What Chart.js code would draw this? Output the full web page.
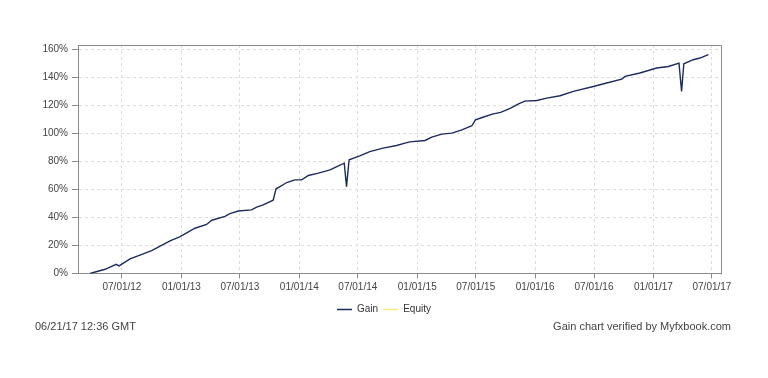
<!DOCTYPE html>
<html>
<head>
<meta charset="utf-8">
<script src="https://cdn.jsdelivr.net/npm/chart.js@4/dist/chart.umd.min.js"></script>
<style>
  html, body { margin: 0; padding: 0; background: #fff; }
  #c { display: block; }
</style>
</head>
<body>
<canvas id="c" width="768" height="378"></canvas>
<script>
// ---- data ----
const dates = [
  '2012-03-24','2012-05-10','2012-06-13','2012-06-22','2012-07-26','2012-09-05','2012-10-01','2012-11-27','2012-12-28',
  '2013-02-12','2013-03-20','2013-04-05','2013-05-16','2013-05-31','2013-06-26','2013-08-06','2013-08-22','2013-09-11',
  '2013-10-12','2013-10-21','2013-11-02','2013-11-23','2013-12-18',
  '2014-01-08','2014-01-29','2014-03-01','2014-04-06','2014-04-27','2014-05-20','2014-05-27','2014-06-04','2014-07-07',
  '2014-08-07','2014-09-17','2014-10-29','2014-11-24','2014-12-09',
  '2015-01-25','2015-02-15','2015-03-18','2015-04-18','2015-05-19','2015-06-19','2015-06-30','2015-07-21','2015-08-21',
  '2015-09-16','2015-10-17','2015-11-12','2015-11-30',
  '2016-01-06','2016-02-06','2016-03-18','2016-04-28','2016-06-29','2016-08-09','2016-09-25','2016-10-05','2016-11-20',
  '2017-01-11','2017-02-16','2017-03-21','2017-03-29','2017-04-05','2017-05-04','2017-05-25','2017-06-20'
];
const gain = [
  0, 3, 6.5, 5.4, 10.4, 14, 16.3, 23.2, 26.3,
  32.3, 35, 38, 40.8, 42.7, 44.6, 45.4, 47.3, 48.9,
  52.3, 60.4, 62, 64.9, 66.8,
  66.8, 69.9, 71.6, 73.9, 76.3, 78.7, 62, 81.1, 83.9,
  87, 89.4, 91.3, 93, 93.9,
  94.9, 97.3, 99.4, 100.1, 102.5, 105.4, 109.6, 111.3, 113.7,
  114.9, 118, 121.1, 123,
  123.4, 125.1, 126.8, 129.9, 133.4, 135.9, 138.7, 140.6, 143,
  146.6, 147.7, 150.1, 129.9, 149.6, 152.5, 153.7, 156.1
];
const equity = [];
const xTickLabels = ['07/01/12','01/01/13','07/01/13','01/01/14','07/01/14','01/01/15','07/01/15','01/01/16','07/01/16','01/01/17','07/01/17'];
const yTickValues = [0, 20, 40, 60, 80, 100, 120, 140, 160];
const xRange = ['2012-02-16', '2017-07-29'];
const yRange = [0, 163];
const footerLeft = '06/21/17 12:36 GMT';
const footerRight = 'Gain chart verified by Myfxbook.com';

// ---- helpers ----
function parseMDY(s) {
  const p = s.split('/');
  return Date.UTC(2000 + parseInt(p[2], 10), parseInt(p[0], 10) - 1, parseInt(p[1], 10));
}
function fmtMDY(t) {
  const d = new Date(t);
  const mm = String(d.getUTCMonth() + 1).padStart(2, '0');
  const dd = String(d.getUTCDate()).padStart(2, '0');
  const yy = String(d.getUTCFullYear() % 100).padStart(2, '0');
  return mm + '/' + dd + '/' + yy;
}
const gainPoints = dates.map((d, i) => ({ x: Date.parse(d), y: gain[i] }));
const xTicks = xTickLabels.map(parseMDY);

const FONT = "'Liberation Sans', Arial, sans-serif";

const frameAndFooter = {
  id: 'frameAndFooter',
  afterDraw(chart) {
    const ctx = chart.ctx;
    const a = chart.chartArea;
    ctx.save();
    ctx.strokeStyle = '#8a8a8a';
    ctx.lineWidth = 1;
    ctx.beginPath();
    ctx.moveTo(Math.round(a.left) + 0.5, Math.round(a.top) + 0.5);
    ctx.lineTo(Math.round(a.right) + 0.5, Math.round(a.top) + 0.5);
    ctx.lineTo(Math.round(a.right) + 0.5, Math.round(a.bottom) + 0.5);
    ctx.stroke();
    ctx.fillStyle = '#444';
    ctx.font = '11px ' + FONT;
    ctx.textBaseline = 'middle';
    ctx.textAlign = 'left';
    ctx.fillText(footerLeft, 35, 327);
    ctx.textAlign = 'right';
    ctx.fillText(footerRight, 731, 327);
    ctx.restore();
  }
};

new Chart(document.getElementById('c'), {
  type: 'line',
  data: {
    datasets: [
      {
        label: 'Gain',
        data: gainPoints,
        borderColor: '#1d2b5e',
        backgroundColor: '#1d2b5e',
        borderWidth: 1.4,
        pointRadius: 0,
        tension: 0,
        fill: false
      },
      {
        label: 'Equity',
        data: equity,
        borderColor: '#f7ec7a',
        backgroundColor: '#f7ec7a',
        borderWidth: 1.4,
        pointRadius: 0,
        fill: false
      }
    ]
  },
  options: {
    responsive: false,
    animation: false,
    layout: { padding: { left: 0, right: 0, top: 45, bottom: 53.5 } },
    plugins: {
      tooltip: { enabled: false },
      legend: {
        display: true,
        position: 'bottom',
        labels: {
          boxWidth: 15,
          boxHeight: 0,
          padding: 5,
          color: '#333',
          font: { family: FONT, size: 10 }
        }
      }
    },
    scales: {
      x: {
        type: 'linear',
        min: Date.parse(xRange[0]),
        max: Date.parse(xRange[1]),
        afterBuildTicks(scale) { scale.ticks = xTicks.map(v => ({ value: v })); },
        afterFit(scale) { scale.height = 26; },
        ticks: {
          autoSkip: false,
          maxRotation: 0,
          padding: 3,
          color: '#444',
          font: { family: FONT, size: 10 },
          callback: (v) => fmtMDY(v)
        },
        grid: {
          color: '#dddddd',
          tickColor: '#8a8a8a',
          tickLength: 5,
          tickBorderDash: [],
          drawTicks: true
        },
        border: { display: true, color: '#8a8a8a', dash: [3, 3] }
      },
      y: {
        type: 'linear',
        position: 'left',
        min: yRange[0],
        max: yRange[1],
        afterBuildTicks(scale) { scale.ticks = yTickValues.map(v => ({ value: v })); },
        afterFit(scale) { scale.width = 78; },
        ticks: {
          padding: 4,
          color: '#444',
          font: { family: FONT, size: 10 },
          callback: (v) => v + '%'
        },
        grid: {
          color: '#dddddd',
          tickColor: '#8a8a8a',
          tickLength: 6,
          tickBorderDash: [],
          drawTicks: true
        },
        border: { display: true, color: '#8a8a8a', dash: [3, 3] }
      },
      yRightSpace: {
        type: 'linear',
        position: 'right',
        min: yRange[0],
        max: yRange[1],
        afterFit(scale) { scale.width = 47; },
        ticks: { display: false },
        grid: { display: false, drawTicks: false },
        border: { display: false }
      }
    }
  },
  plugins: [frameAndFooter]
});
</script>
</body>
</html>
